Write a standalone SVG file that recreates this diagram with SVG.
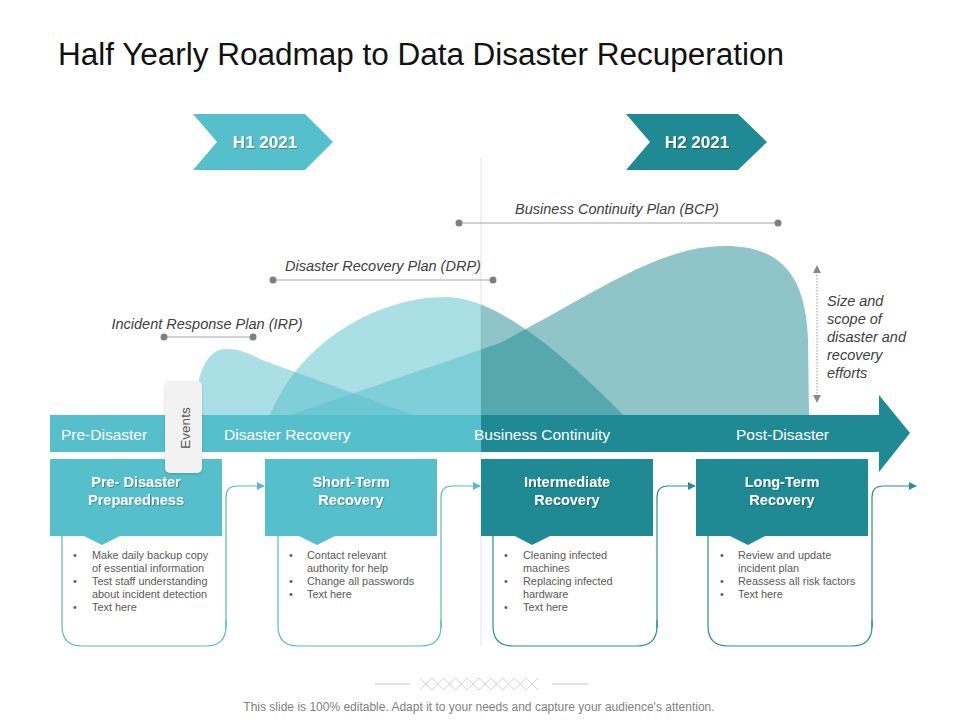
<svg xmlns="http://www.w3.org/2000/svg" width="960" height="720" viewBox="0 0 960 720">
<defs>
<style>
.sans{font-family:"Liberation Sans",Arial,sans-serif}
.plan{font-family:"Liberation Sans",Arial,sans-serif;font-style:italic;font-size:14.5px;fill:#404040}
.band{font-family:"Liberation Sans",Arial,sans-serif;font-size:15.5px;fill:#ffffff}
.head{font-family:"Liberation Sans",Arial,sans-serif;font-size:14.5px;font-weight:bold;fill:#ffffff;text-anchor:middle}
.bul{font-family:"Liberation Sans",Arial,sans-serif;font-size:10.9px;fill:#595959}
.pl{stroke:#a6a6a6;stroke-width:1;fill:none}
.dot{fill:#7f7f7f}
.light{fill:#56BFCC}
.dark{fill:#1F8A93}
.cl{fill:none;stroke:#5BB8C4;stroke-width:1.2}
.cd{fill:none;stroke:#2A8C95;stroke-width:1.2}
</style>
<clipPath id="leftHalf"><rect x="0" y="0" width="481" height="416"/></clipPath>
<clipPath id="rightHalf"><rect x="481" y="0" width="479" height="416"/></clipPath>
<filter id="ts" x="-10%" y="-20%" width="120%" height="140%"><feDropShadow dx="0.8" dy="0.8" stdDeviation="0.4" flood-color="#000" flood-opacity="0.35"/></filter>
<filter id="tab" x="-30%" y="-10%" width="160%" height="120%"><feDropShadow dx="0" dy="1" stdDeviation="1.2" flood-color="#000" flood-opacity="0.2"/></filter>
<marker id="arL" viewBox="0 0 10 10" refX="9" refY="5" markerWidth="8" markerHeight="8" markerUnits="userSpaceOnUse" orient="auto"><path d="M0,0 L10,5 L0,10 Z" fill="#5BB8C4"/></marker>
<marker id="arD" viewBox="0 0 10 10" refX="9" refY="5" markerWidth="8" markerHeight="8" markerUnits="userSpaceOnUse" orient="auto"><path d="M0,0 L10,5 L0,10 Z" fill="#2A8C95"/></marker>
<path id="irp" d="M197,415 C194,385 203,349 226,349 C240,349 250,354 262,360 L413,415 Z"/>
<path id="drp" d="M270,415 C300,340 380,297 445,297 C485,297 540,330 623,415 Z"/>
<path id="bcp" d="M290,415 L500,343 C600,290 660,246 725,246 C778,246 806,272 808,340 L809,415 Z"/>
</defs>
<rect width="960" height="720" fill="#ffffff"/>

<text class="sans" x="58" y="65" font-size="31" fill="#111111" textLength="726" lengthAdjust="spacingAndGlyphs">Half Yearly Roadmap to Data Disaster Recuperation</text>

<line x1="481" y1="158" x2="481" y2="645" stroke="#e3e3e3" stroke-width="1"/>

<g id="h1">
<polygon class="light" points="193,114 305,114 333,142 305,170 193,170 217,142"/>
<text class="sans" x="265" y="148" font-size="17" font-weight="bold" fill="#fff" text-anchor="middle" filter="url(#ts)">H1 2021</text>
</g>
<g id="h2">
<polygon class="dark" points="626,114 738,114 767,142 738,170 626,170 650,142"/>
<text class="sans" x="697" y="148" font-size="17" font-weight="bold" fill="#fff" text-anchor="middle" filter="url(#ts)">H2 2021</text>
</g>

<g id="curves">
<g clip-path="url(#leftHalf)" fill="#56BFCC" fill-opacity="0.5">
<use href="#irp"/><use href="#drp"/><use href="#bcp"/>
</g>
<g clip-path="url(#rightHalf)" fill="#1F8A93" fill-opacity="0.5">
<use href="#irp"/><use href="#drp"/><use href="#bcp"/>
</g>
</g>

<g id="plans">
<line class="pl" x1="459" y1="223" x2="778" y2="223"/>
<circle class="dot" cx="459" cy="223" r="3.5"/><circle class="dot" cx="778" cy="223" r="3.5"/>
<text class="plan" x="617" y="214" text-anchor="middle">Business Continuity Plan (BCP)</text>
<line class="pl" x1="273" y1="280" x2="493" y2="280"/>
<circle class="dot" cx="273" cy="280" r="3.5"/><circle class="dot" cx="493" cy="280" r="3.5"/>
<text class="plan" x="383" y="271" text-anchor="middle">Disaster Recovery Plan (DRP)</text>
<line class="pl" x1="164" y1="337" x2="253" y2="337"/>
<circle class="dot" cx="164" cy="337" r="3.5"/><circle class="dot" cx="253" cy="337" r="3.5"/>
<text class="plan" x="207" y="329" text-anchor="middle">Incident Response Plan (IRP)</text>
</g>

<g id="scope">
<line x1="817" y1="272" x2="817" y2="396" stroke="#9a9a9a" stroke-width="1" stroke-dasharray="1.5,1.5"/>
<polygon points="817,265 813,273 821,273" fill="#8a8a8a"/>
<polygon points="817,403 813,395 821,395" fill="#8a8a8a"/>
<text class="plan" font-size="14.8">
<tspan x="827" y="306">Size and</tspan>
<tspan x="827" y="324">scope of</tspan>
<tspan x="827" y="342">disaster and</tspan>
<tspan x="827" y="360">recovery</tspan>
<tspan x="827" y="378">efforts</tspan>
</text>
</g>

<g id="timeline">
<rect class="light" x="50" y="415" width="431" height="37"/>
<rect class="dark" x="481" y="415" width="399" height="37"/>
<polygon class="dark" points="879,395 910,433 879,472"/>
<text class="band" x="61" y="439.5">Pre-Disaster</text>
<text class="band" x="224" y="439.5">Disaster Recovery</text>
<text class="band" x="474" y="439.5">Business Continuity</text>
<text class="band" x="736" y="439.5">Post-Disaster</text>
</g>

<g id="connectors">
<path class="cl" d="M226,628 L226,497 Q226,486 237,486 L264,486" marker-end="url(#arL)"/>
<path class="cl" d="M441,628 L441,497 Q441,486 452,486 L480,486" marker-end="url(#arL)"/>
<path class="cd" d="M657,628 L657,497 Q657,486 668,486 L695,486" marker-end="url(#arD)"/>
<path class="cd" d="M872,628 L872,497 Q872,486 883,486 L916,486" marker-end="url(#arD)"/>
</g>

<g id="box1">
<path class="cl" d="M62,536 L62,626 Q62,646 82,646 L206,646 Q226,646 226,626 L226,620"/>
<rect class="light" x="50" y="459" width="172" height="77"/>
<polygon class="light" points="82,535 122,535 102,545"/>
<text class="head" filter="url(#ts)"><tspan x="136" y="487">Pre- Disaster</tspan><tspan x="136" y="505">Preparedness</tspan></text>
<g class="bul">
<text x="73" y="559">•</text><text x="92" y="559">Make daily backup copy</text>
<text x="92" y="572">of essential information</text>
<text x="73" y="585">•</text><text x="92" y="585">Test staff understanding</text>
<text x="92" y="598">about incident detection</text>
<text x="73" y="611">•</text><text x="92" y="611">Text here</text>
</g>
</g>

<g id="box2">
<path class="cl" d="M278,536 L278,626 Q278,646 298,646 L421,646 Q441,646 441,626 L441,620"/>
<rect class="light" x="265" y="459" width="172" height="77"/>
<polygon class="light" points="297,535 337,535 317,545"/>
<text class="head" filter="url(#ts)"><tspan x="351" y="487">Short-Term</tspan><tspan x="351" y="505">Recovery</tspan></text>
<g class="bul">
<text x="289" y="559">•</text><text x="307" y="559">Contact relevant</text>
<text x="307" y="572">authority for help</text>
<text x="289" y="585">•</text><text x="307" y="585">Change all passwords</text>
<text x="289" y="598">•</text><text x="307" y="598">Text here</text>
</g>
</g>

<g id="box3">
<path class="cd" d="M493,536 L493,626 Q493,646 513,646 L637,646 Q657,646 657,626 L657,620"/>
<rect class="dark" x="481" y="459" width="172" height="77"/>
<polygon class="dark" points="513,535 552,535 532,545"/>
<text class="head" filter="url(#ts)"><tspan x="567" y="487">Intermediate</tspan><tspan x="567" y="505">Recovery</tspan></text>
<g class="bul">
<text x="504" y="559">•</text><text x="523" y="559">Cleaning infected</text>
<text x="523" y="572">machines</text>
<text x="504" y="585">•</text><text x="523" y="585">Replacing infected</text>
<text x="523" y="598">hardware</text>
<text x="504" y="611">•</text><text x="523" y="611">Text here</text>
</g>
</g>

<g id="box4">
<path class="cd" d="M708,536 L708,626 Q708,646 728,646 L852,646 Q872,646 872,626 L872,620"/>
<rect class="dark" x="696" y="459" width="172" height="77"/>
<polygon class="dark" points="728,535 767,535 748,545"/>
<text class="head" filter="url(#ts)"><tspan x="782" y="487">Long-Term</tspan><tspan x="782" y="505">Recovery</tspan></text>
<g class="bul">
<text x="720" y="559">•</text><text x="738" y="559">Review and update</text>
<text x="738" y="572">incident plan</text>
<text x="720" y="585">•</text><text x="738" y="585">Reassess all risk factors</text>
<text x="720" y="598">•</text><text x="738" y="598">Text here</text>
</g>
</g>

<g id="events" filter="url(#tab)">
<rect x="165" y="381" width="37" height="92" rx="5" fill="#f2f2f2"/>
</g>
<text class="sans" x="0" y="0" font-size="13.5" fill="#555555" text-anchor="middle" transform="translate(190,428) rotate(-90)">Events</text>

<g id="footer">
<line x1="375" y1="684" x2="410" y2="684" stroke="#c8c8c8" stroke-width="1"/>
<line x1="552" y1="684" x2="588" y2="684" stroke="#c8c8c8" stroke-width="1"/>
<polyline fill="none" stroke="#d2d2d2" stroke-width="1" points="420,678 431.8,690 443.6,678 455.4,690 467.2,678 479,690 490.8,678 502.6,690 514.4,678 526.2,690 538,678"/>
<polyline fill="none" stroke="#d2d2d2" stroke-width="1" points="420,690 431.8,678 443.6,690 455.4,678 467.2,690 479,678 490.8,690 502.6,678 514.4,690 526.2,678 538,690"/>
<text class="sans" x="479" y="711" font-size="12" fill="#7f7f7f" text-anchor="middle">This slide is 100% editable. Adapt it to your needs and capture your audience's attention.</text>
</g>
</svg>
